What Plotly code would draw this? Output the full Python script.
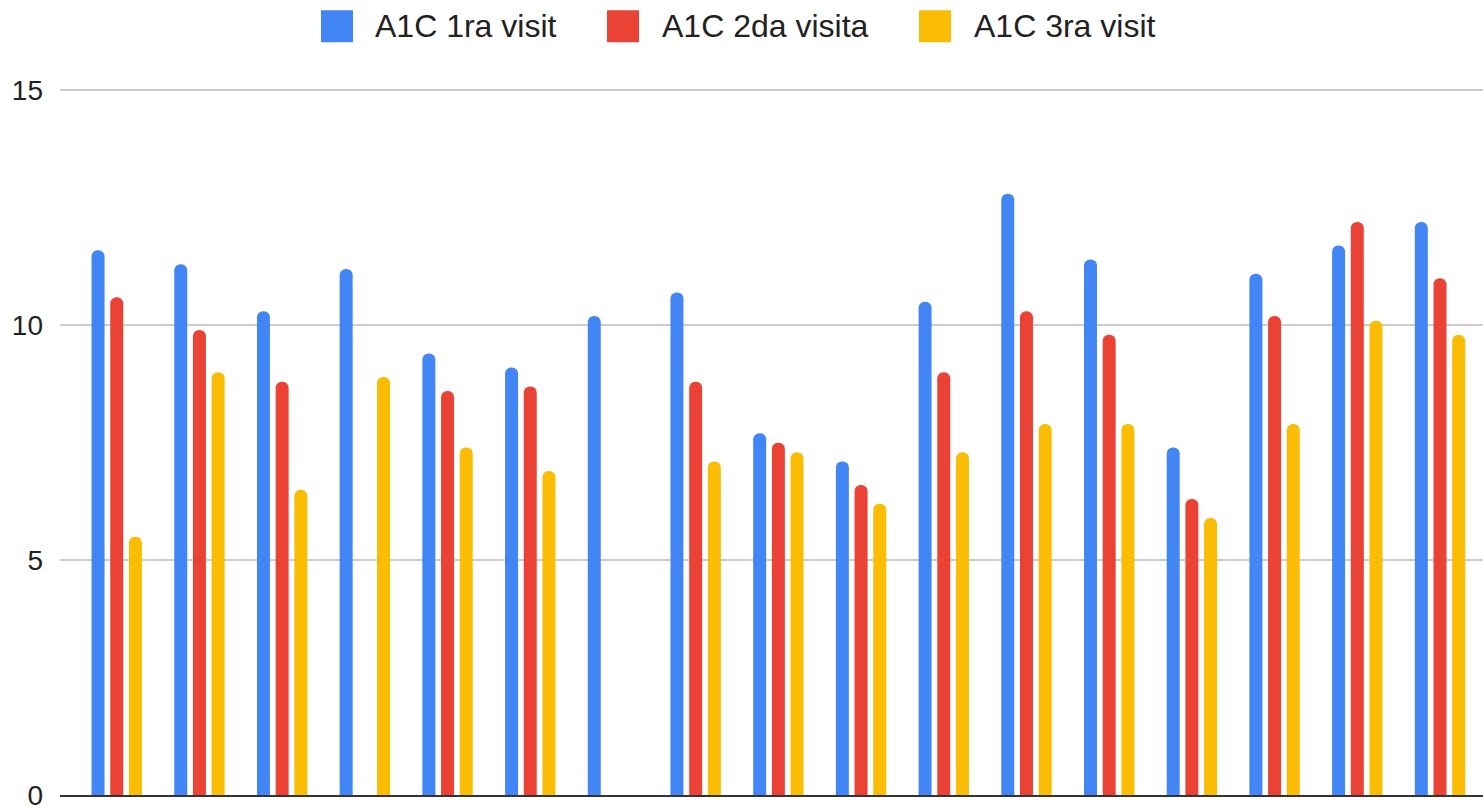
import plotly.graph_objects as go

categories = list(range(1, 18))
visit1 = [11.6, 11.3, 10.3, 11.2, 9.4, 9.1, 10.2, 10.7, 7.7, 7.1, 10.5, 12.8, 11.4, 7.4, 11.1, 11.7, 12.2]
visit2 = [10.6, 9.9, 8.8, None, 8.6, 8.7, None, 8.8, 7.5, 6.6, 9.0, 10.3, 9.8, 6.3, 10.2, 12.2, 11.0]
visit3 = [5.5, 9.0, 6.5, 8.9, 7.4, 6.9, None, 7.1, 7.3, 6.2, 7.3, 7.9, 7.9, 5.9, 7.9, 10.1, 9.8]
series_names = ["A1C 1ra visit", "A1C 2da visita", "A1C 3ra visit"]
colors = ["#4285F4", "#EA4335", "#FBBC04"]
y_ticks = [0, 5, 10, 15]

W, H = 1483, 811
ML, MR, MT, MB = 60, 0, 67, 12

fig = go.Figure()
for name, vals, col in zip(series_names, [visit1, visit2, visit3], colors):
    fig.add_trace(go.Bar(x=list(range(len(categories))), y=vals, name=name,
                         marker=dict(color=col, line=dict(width=0)),
                         showlegend=False, hoverinfo="y"))

fig.update_layout(
    width=W, height=H,
    margin=dict(l=ML, r=MR, t=MT, b=MB, pad=0),
    paper_bgcolor="white", plot_bgcolor="white",
    barmode="group", bargap=0.322, bargroupgap=0.305,
    barcornerradius=6,
    font=dict(family="Liberation Sans, Arial, sans-serif", color="#222222"),
    xaxis=dict(range=[-0.686, 16.52], showticklabels=False, ticks="",
               showgrid=False, zeroline=False, showline=True,
               linecolor="#333333", linewidth=2),
    yaxis=dict(range=[0, 15.5], tickvals=y_ticks, ticktext=[str(v) for v in y_ticks],
               showgrid=True, gridcolor="#cccccc", gridwidth=2,
               zeroline=False, showline=False, ticks="",
               tickfont=dict(size=28, color="#222222"),
               ticklabelstandoff=16, ticklabeloverflow="allow"),
)

# custom legend (large swatches like the reference)
pw = W - ML - MR
ph = H - MT - MB
def px_x(x):
    return (x - ML) / pw
def px_y(y):
    return (H - MB - y) / ph

legend_items = [(321, 373), (607, 660), (919, 972)]
for (sx, tx), name, col in zip(legend_items, series_names, colors):
    fig.add_shape(type="rect", xref="paper", yref="paper",
                  x0=px_x(sx), x1=px_x(sx + 32), y0=px_y(42), y1=px_y(10),
                  fillcolor=col, line=dict(width=0), layer="above")
    fig.add_annotation(xref="paper", yref="paper", x=px_x(tx), y=px_y(26),
                       text=name, showarrow=False, xanchor="left", yanchor="middle",
                       font=dict(size=32, color="#222222",
                                 family="Liberation Sans, Arial, sans-serif"))

fig.write_html("out.html")
